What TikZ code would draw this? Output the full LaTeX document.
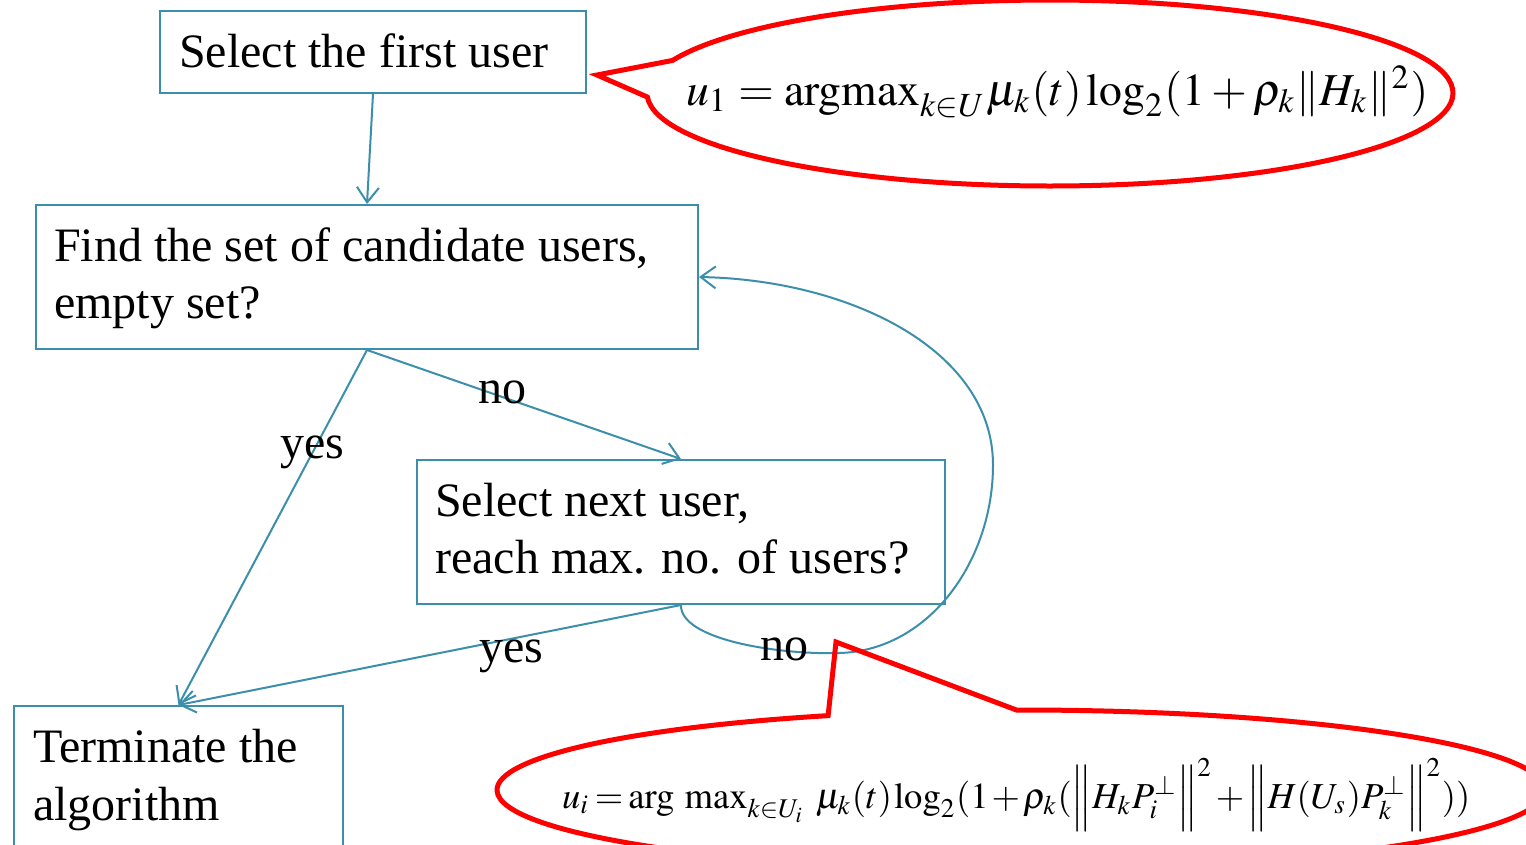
\documentclass[tikz,border=0pt]{standalone}
\usepackage{graphicx}
\usepackage{mathptmx}
\usepackage{fontspec}
\setmainfont{Liberation Serif}
\usetikzlibrary{arrows.meta,calc}
\definecolor{tealline}{HTML}{3C8FAA}
\begin{document}
\begin{tikzpicture}[x=1pt,y=1pt,
  box/.style={draw=tealline, line width=2pt, rectangle, inner sep=0pt, anchor=north west},
  txt/.style={anchor=base west, inner sep=0pt, font=\fontsize{48}{58}\selectfont},
  conn/.style={draw=tealline, line width=2pt, -{Straight Barb[length=15pt,width=22pt]}},
  callout/.style={draw=red, line width=5pt, line join=miter},
  formula/.style={anchor=base west, inner sep=0pt}]
\clip (0,0) rectangle (1526,-844);
% boxes
\node[box, minimum width=426pt, minimum height=82pt] (b1) at (159,-10) {};
\node[box, minimum width=662pt, minimum height=144pt] (b2) at (35,-204) {};
\node[box, minimum width=528pt, minimum height=144pt] (b3) at (416,-459) {};
\node[box, minimum width=329pt, minimum height=170pt] (b4) at (13,-705) {};
% texts
\node[txt] (t1) at (179,-67) {Select the first user};
\node[txt] (t2a) at (54,-261) {Find the set of candidate users,};
\node[txt] (t2b) at (54,-318) {empty set?};
\node[txt] (t3a) at (435,-516) {Select next user,};
\node[txt] (t3b) at (435,-573) {reach max. no. of users?};
\node[txt] (t4a) at (33,-762) {Terminate the};
\node[txt] (t4b) at (33,-820) {algorithm};
% connectors
\draw[conn] (b1.south) -- (b2.north);
\draw[conn] (b2.south) -- (b4.north);
\draw[conn] (b2.south) -- (b3.north);
\draw[conn] (b3.south) -- (b4.north);
\coordinate (lb) at (840,-653);
\coordinate (lr) at (993,-465);
\draw[conn] (b3.south) .. controls (680,-640) and (780,-655) .. (lb)
  .. controls (930,-650) and (993,-560) .. (lr)
  .. controls (993,-350) and (850,-280) .. (b2.east);
% labels
\node[txt] (l1) at (280,-458) {yes};
\node[txt] (l2) at (478,-403) {no};
\node[txt] (l3) at (479,-662) {yes};
\node[txt] (l4) at (760,-660) {no};
% callouts
\coordinate (c1) at (1050,-93);
\draw[callout] ($(c1)+(159.5:403pt and 93pt)$) -- (597,-75) -- ($(c1)+(182.5:403pt and 93pt)$)
  arc[start angle=182.5, end angle=519.5, x radius=403pt, y radius=93pt] -- cycle;
\coordinate (c2) at (1021,-790);
\draw[callout] ($(c2)+(111.6:524pt and 80pt)$) -- (836,-642) -- ($(c2)+(90.5:524pt and 80pt)$)
  arc[start angle=90.5, end angle=-248.4, x radius=524pt, y radius=80pt] -- cycle;
% formulas
\node[formula] (f1) at (686,-105) {\resizebox{742pt}{!}{$u_1=\mathrm{argmax}_{k\in U}\mu_k(t)\log_2(1+\rho_k\|H_k\|^2)$}};
\node[formula] (f2) at (562,-808) {\resizebox{908pt}{!}{$\medmuskip=1.5mu\thickmuskip=2.5mu\thinmuskip=1mu u_i=\mathop{\mathrm{arg}\mkern5mu\mathrm{max}}\nolimits_{k\in U_i}\mkern4mu\mu_k(t)\log_2(1+\rho_k(\Bigl\|H_kP_i^{\perp}\Bigr\|^2+\Bigl\|H(U_s)P_k^{\perp}\Bigr\|^2))$}};
\end{tikzpicture}
\end{document}
